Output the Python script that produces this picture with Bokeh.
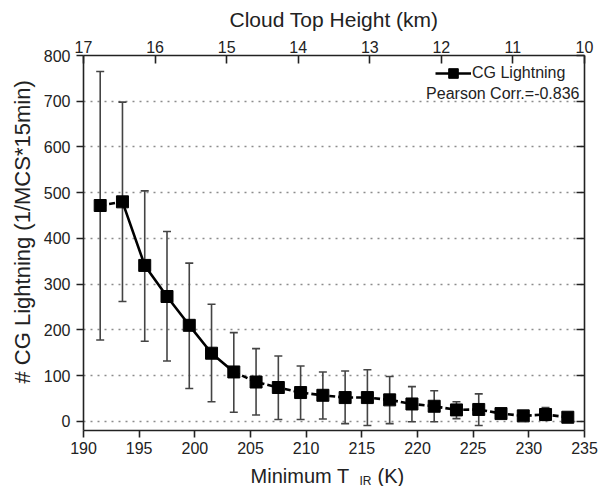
from bokeh.plotting import figure
from bokeh.layouts import column
from bokeh.models import (Range1d, LinearAxis, FixedTicker, Whisker, TeeHead,
                          ColumnDataSource, Label, Legend, LegendItem, Title)
from bokeh.embed import file_html
from bokeh.resources import INLINE

# ---- data ----
t_ir = [191.5, 193.5, 195.5, 197.5, 199.5, 201.5, 203.5, 205.5, 207.5, 209.5, 211.5,
        213.5, 215.5, 217.5, 219.5, 221.5, 223.5, 225.5, 227.5, 229.5, 231.5, 233.5]
cg_lightning = [472, 480, 341, 273, 210, 149, 108, 86, 74, 63, 57,
                52, 52, 47, 38, 33, 25, 26, 17, 12, 15, 9]
err_upper = [765, 698, 504, 415, 346, 256, 194, 159, 143, 121, 108,
             110, 113, 98, 76, 67, 43, 60, 26, 15, 30, 11]
err_lower = [178, 262, 175, 132, 72, 43, 20, 14, 4, 4, 5,
             -5, -9, -5, -1, -1, 6, -9, 8, 9, 2, 7]
x_ticks = [190, 195, 200, 205, 210, 215, 220, 225, 230, 235]
y_ticks = [0, 100, 200, 300, 400, 500, 600, 700, 800]
km_ticks = [17, 16, 15, 14, 13, 12, 11, 10]
pearson_text = "Pearson Corr.=-0.836"
series_name = "CG Lightning"
y_title = "# CG Lightning (1/MCS*15min)"
top_title = "Cloud Top Height (km)"

FONT = "Liberation Sans"
AX = "#222222"

p = figure(width=614, height=460, output_backend="svg", toolbar_location=None,
           x_range=Range1d(190, 235), y_range=Range1d(-20, 800),
           min_border_left=83, min_border_right=30, min_border_top=55,
           min_border_bottom=30, outline_line_color=None)
p.extra_x_ranges = {"km": Range1d(17, 10)}

# grid
p.xgrid.grid_line_color = None
p.ygrid.ticker = FixedTicker(ticks=y_ticks[:-1])
p.ygrid.grid_line_color = "#8c8c8c"
p.ygrid.grid_line_dash = "2 5"
p.ygrid.grid_line_width = 1.6


def style_axis(ax, tick_in, tick_out, label_size="16px"):
    ax.axis_line_color = AX
    ax.axis_line_width = 1.6
    ax.major_tick_line_color = AX
    ax.major_tick_line_width = 1.6
    ax.major_tick_in = tick_in
    ax.major_tick_out = tick_out
    ax.minor_tick_line_color = None
    ax.major_label_text_font = FONT
    ax.major_label_text_font_size = label_size
    ax.major_label_text_color = AX
    ax.axis_label_text_font = FONT
    ax.axis_label_text_font_style = "normal"
    ax.axis_label_text_color = AX


xb = p.xaxis[0]
xb.ticker = FixedTicker(ticks=x_ticks)
style_axis(xb, 0, 7)
xb.major_label_standoff = 4

yl = p.yaxis[0]
yl.ticker = FixedTicker(ticks=y_ticks)
style_axis(yl, 0, 7)
yl.major_label_standoff = 6

top = LinearAxis(x_range_name="km", ticker=FixedTicker(ticks=km_ticks),
                 axis_label=top_title)
style_axis(top, 8, 0)
top.major_label_standoff = 3
top.axis_label_text_font_size = "21px"
top.axis_label_standoff = 7
p.add_layout(top, "above")

right = LinearAxis(ticker=FixedTicker(ticks=y_ticks))
style_axis(right, 8, 0)
right.major_label_overrides = {t: "" for t in y_ticks}
right.major_label_standoff = 0
p.add_layout(right, "right")

# left axis title, starting above the frame bottom as in the reference
p.add_layout(Title(text=y_title, align="left", offset=47, standoff=12,
                   text_font=FONT, text_font_size="22px", text_font_style="normal",
                   text_color=AX), "left")

# error bars
src = ColumnDataSource(dict(x=t_ir, y=cg_lightning, up=err_upper, lo=err_lower))
whisk = Whisker(base="x", upper="up", lower="lo", source=src, dimension="height",
                line_color="#444444", line_width=1.6,
                upper_head=TeeHead(size=8, line_color="#444444", line_width=1.6),
                lower_head=TeeHead(size=8, line_color="#444444", line_width=1.6))
p.add_layout(whisk)

# connecting line: solid over the cold end, dashed elsewhere
solid = p.line(t_ir[1:7], cg_lightning[1:7], line_color="black", line_width=2.6)
p.line(t_ir[:2], cg_lightning[:2], line_color="black", line_width=2.6, line_dash="6 3")
p.line(t_ir[6:], cg_lightning[6:], line_color="black", line_width=2.6, line_dash="6 3")
sq = p.scatter("x", "y", source=src, marker="square", size=12,
               fill_color="black", line_color="black")

legend = Legend(items=[LegendItem(label=series_name, renderers=[solid, sq])],
                location=(352, 345), padding=0, margin=0, spacing=0,
                border_line_alpha=0, background_fill_alpha=0,
                glyph_width=36, glyph_height=24, label_standoff=1,
                label_text_font=FONT, label_text_font_size="16px",
                label_text_color=AX, label_height=20)
p.add_layout(legend)

p.add_layout(Label(x=235, y=800, x_offset=-5, y_offset=-38, text=pearson_text,
                   text_align="right", text_baseline="middle",
                   text_font=FONT, text_font_size="16px", text_color=AX))

# strip below the plot for the x-axis title with its subscript
s = figure(width=614, height=26, output_backend="svg", toolbar_location=None,
           x_range=p.x_range, y_range=Range1d(0, 1),
           min_border_left=83, min_border_right=30, min_border_top=0,
           min_border_bottom=0, outline_line_color=None)
s.axis.visible = False
s.grid.visible = False
s.add_layout(Label(x=266, y=11, x_units="screen", y_units="screen", text="Minimum T",
                   text_align="right", text_baseline="middle",
                   text_font=FONT, text_font_size="20px", text_color=AX))
s.add_layout(Label(x=276, y=6, x_units="screen", y_units="screen", text="IR",
                   text_align="left", text_baseline="middle",
                   text_font=FONT, text_font_size="12px", text_color=AX))
s.add_layout(Label(x=294, y=11, x_units="screen", y_units="screen", text="(K)",
                   text_align="left", text_baseline="middle",
                   text_font=FONT, text_font_size="20px", text_color=AX))

layout = column(p, s, spacing=0)
open("out.html", "w").write(file_html(layout, INLINE))
